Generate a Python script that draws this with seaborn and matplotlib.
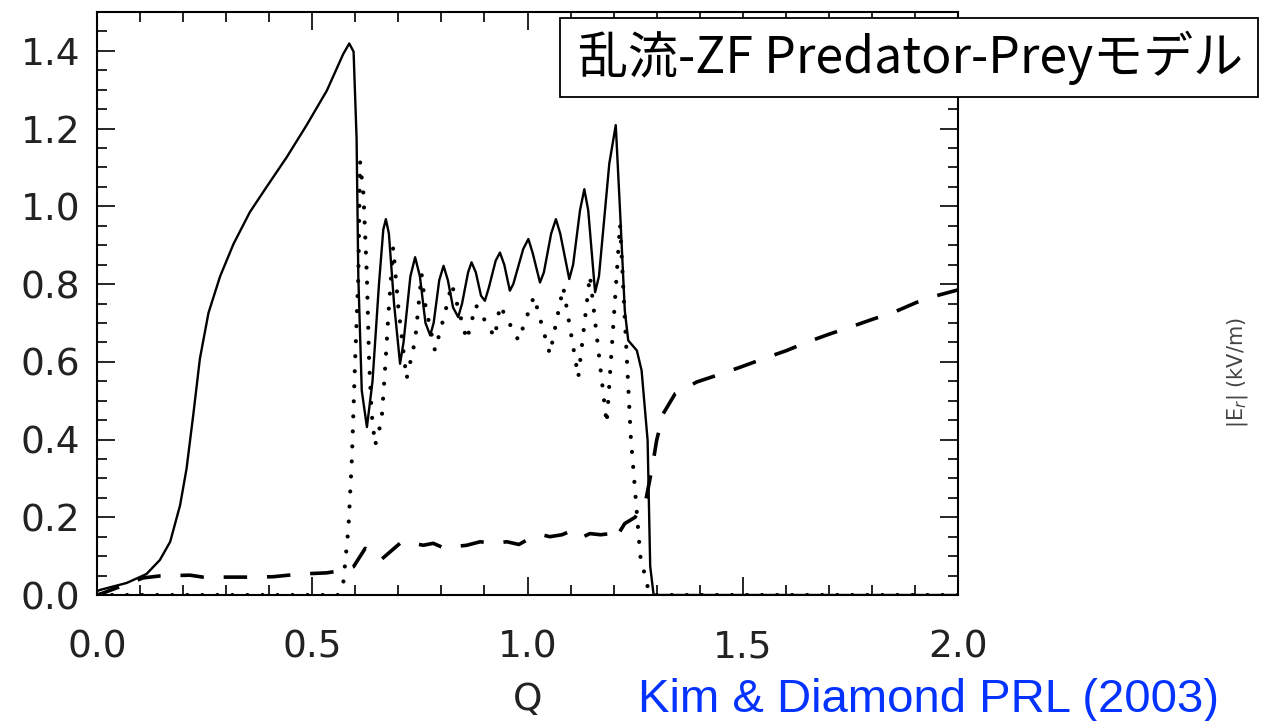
import matplotlib
matplotlib.use('Agg')
import matplotlib.pyplot as plt
from matplotlib.patches import Rectangle
from matplotlib.ticker import MultipleLocator, FormatStrFormatter
import seaborn as sns

# solid curve (turbulence)
solid_q = [0.0, 0.007, 0.069, 0.115, 0.146, 0.170, 0.193, 0.208, 0.224, 0.239,
           0.259, 0.286, 0.317, 0.355, 0.394, 0.441, 0.487, 0.534, 0.572, 0.586,
           0.596, 0.603, 0.607, 0.615, 0.627, 0.640, 0.655, 0.665, 0.671, 0.678,
           0.690, 0.704, 0.712, 0.728, 0.739, 0.750, 0.763, 0.774, 0.782, 0.795,
           0.805, 0.815, 0.827, 0.839, 0.848, 0.862, 0.870, 0.880, 0.892, 0.901,
           0.910, 0.926, 0.936, 0.946, 0.959, 0.967, 0.990, 1.002, 1.012, 1.029,
           1.038, 1.055, 1.066, 1.076, 1.097, 1.106, 1.122, 1.132, 1.141, 1.157,
           1.166, 1.190, 1.205, 1.215, 1.226, 1.234, 1.254, 1.265, 1.273, 1.279,
           1.285, 1.293, 2.0]
solid_v = [0.010, 0.013, 0.031, 0.054, 0.090, 0.137, 0.231, 0.325, 0.467, 0.608,
           0.726, 0.820, 0.903, 0.985, 1.050, 1.127, 1.209, 1.298, 1.392, 1.419,
           1.398, 1.174, 0.820, 0.526, 0.432, 0.550, 0.800, 0.940, 0.967, 0.930,
           0.750, 0.595, 0.650, 0.820, 0.869, 0.820, 0.700, 0.668, 0.700, 0.810,
           0.847, 0.810, 0.740, 0.715, 0.750, 0.830, 0.856, 0.830, 0.770, 0.757,
           0.790, 0.860, 0.881, 0.850, 0.783, 0.800, 0.890, 0.916, 0.880, 0.804,
           0.830, 0.930, 0.967, 0.930, 0.813, 0.850, 0.990, 1.044, 0.990, 0.779,
           0.820, 1.110, 1.209, 0.988, 0.732, 0.655, 0.629, 0.578, 0.475, 0.398,
           0.074, 0.0, 0.0]

# dotted curve (zonal flow)
dot_q = [0.0, 0.560, 0.572, 0.584, 0.592, 0.599, 0.607, 0.611, 0.619, 0.627,
         0.632, 0.638, 0.646, 0.661, 0.669, 0.677, 0.688, 0.700, 0.709, 0.719,
         0.739, 0.754, 0.762, 0.785, 0.808, 0.824, 0.859, 0.880, 0.924, 0.936,
         0.979, 1.015, 1.052, 1.083, 1.118, 1.145, 1.184, 1.215, 1.240, 1.262,
         1.282, 1.290, 2.0]
dot_v = [0.0, 0.0, 0.030, 0.172, 0.349, 0.585, 0.820, 1.115, 1.031, 0.817,
         0.603, 0.467, 0.385, 0.449, 0.578, 0.724, 0.894, 0.740, 0.655, 0.556,
         0.655, 0.826, 0.750, 0.629, 0.724, 0.800, 0.656, 0.746, 0.663, 0.745,
         0.655, 0.768, 0.620, 0.792, 0.560, 0.822, 0.441, 0.954, 0.406, 0.100,
         0.008, 0.0, 0.0]

# dashed curve (|E_r|)
dash_q = [0.0, 0.014, 0.107, 0.146, 0.216, 0.246, 0.355, 0.409, 0.472, 0.534,
          0.572, 0.596, 0.623, 0.650, 0.661, 0.708, 0.735, 0.758, 0.781, 0.808,
          0.835, 0.859, 0.890, 0.921, 0.952, 0.980, 1.006, 1.037, 1.052, 1.080,
          1.106, 1.130, 1.145, 1.170, 1.192, 1.203, 1.226, 1.250, 1.275, 1.290,
          1.300, 1.315, 1.343, 1.393, 1.439, 1.494, 1.548, 1.602, 1.648, 1.703,
          1.749, 1.803, 1.850, 1.904, 1.950, 2.0]
dash_v = [0.0, 0.005, 0.044, 0.049, 0.051, 0.046, 0.046, 0.047, 0.054, 0.057,
          0.064, 0.073, 0.120, 0.095, 0.092, 0.137, 0.133, 0.128, 0.133, 0.120,
          0.125, 0.128, 0.137, 0.133, 0.137, 0.130, 0.146, 0.154, 0.150, 0.155,
          0.167, 0.150, 0.158, 0.155, 0.158, 0.143, 0.184, 0.200, 0.245, 0.330,
          0.398, 0.466, 0.518, 0.548, 0.565, 0.586, 0.608, 0.629, 0.650, 0.672,
          0.689, 0.710, 0.727, 0.753, 0.770, 0.785]

x_ticks = [0.0, 0.5, 1.0, 1.5, 2.0]
y_ticks = [0.0, 0.2, 0.4, 0.6, 0.8, 1.0, 1.2, 1.4]

sns.set_style('ticks')
plt.rcParams['font.family'] = ['DejaVu Sans']

W, H = 1263, 721
fig = plt.figure(figsize=(W / 100, H / 100), dpi=100)
ax = fig.add_axes([97 / W, 1 - 595 / H, (958 - 97) / W, (595 - 12) / H])

sns.lineplot(x=solid_q, y=solid_v, ax=ax, color='black', lw=1.7,
             estimator=None, sort=False)
sns.lineplot(x=dot_q, y=dot_v, ax=ax, color='black', lw=3.0,
             linestyle=(0, (0.01, 3.6)), dash_capstyle='round',
             estimator=None, sort=False)
sns.lineplot(x=dash_q, y=dash_v, ax=ax, color='black', lw=2.6,
             linestyle=(0, (6.5, 5.5)), estimator=None, sort=False)

ax.set_xlim(0, 2.0)
ax.set_ylim(0, 1.5)
ax.set_xticks(x_ticks)
ax.set_yticks(y_ticks)
ax.xaxis.set_minor_locator(MultipleLocator(0.1))
ax.yaxis.set_minor_locator(MultipleLocator(0.05))
ax.xaxis.set_major_formatter(FormatStrFormatter('%.1f'))
ax.yaxis.set_major_formatter(FormatStrFormatter('%.1f'))
ax.tick_params(which='both', direction='in', top=True, right=True,
               width=1.2, color='black')
ax.tick_params(which='major', length=13, labelsize=27, labelcolor='#222222')
ax.tick_params(which='minor', length=7)
ax.tick_params(axis='x', which='major', pad=25)
ax.tick_params(axis='y', which='major', pad=12)
for s in ax.spines.values():
    s.set_linewidth(1.5)
    s.set_color('black')
ax.set_xlabel('')
ax.set_ylabel('')

fig.text(528 / W, 1 - 700 / H, 'Q', fontsize=27, color='#222222',
         ha='center', va='center')
fig.text(638 / W, 1 - 700 / H, 'Kim & Diamond PRL (2003)', fontsize=34,
         color='#0433FF', ha='left', va='center', family='Liberation Sans')
fig.text(1238 / W, 1 - 373 / H, r'|E$_r$| (kV/m)', fontsize=15,
         color='#444444', rotation=90, ha='center', va='center')

box = Rectangle((560 / W, 1 - 97 / H), 698 / W, 79 / H, transform=fig.transFigure,
                facecolor='white', edgecolor='black', lw=1.3, zorder=5)
fig.add_artist(box)
fig.text(911 / W, 1 - 58 / H, '乱流-ZF Predator-Preyモデル', fontsize=36,
         family=['Noto Sans CJK JP', 'DejaVu Sans'], color='black',
         ha='center', va='center', zorder=6)

fig.savefig('out.png', dpi=100)
plt.close(fig)
